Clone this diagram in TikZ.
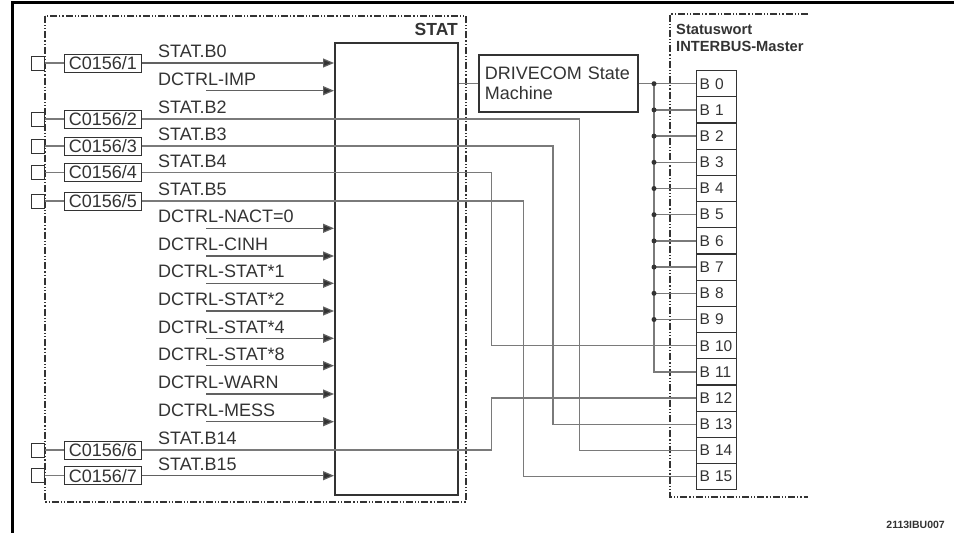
\documentclass[tikz,border=0pt]{standalone}
\usepackage{fontspec}
\setmainfont{Liberation Sans}
\usetikzlibrary{arrows.meta}
\definecolor{wire}{gray}{0.48}
\definecolor{dark}{gray}{0.2}
\begin{document}
\begin{tikzpicture}[x=1pt,y=-1pt,
  frameline/.style={line width=3pt,black},
  dd/.style={draw=dark,line width=1.1pt,dash pattern=on 7pt off 2pt on 1.2pt off 2pt on 1.2pt off 2pt},
  wireline/.style={draw=wire,line width=1.3pt},
  sigarrow/.style={draw=black!62,line width=1.2pt,-{Triangle[length=11pt,width=9pt,fill=dark]}},
  sq/.style={draw=dark,line width=0.9pt,minimum width=13pt,minimum height=14pt,inner sep=0pt,anchor=east},
  cbox/.style={draw=dark,line width=0.9pt,minimum width=77pt,minimum height=18pt,inner sep=1pt,font=\fontsize{18}{20}\selectfont,text=dark,anchor=west},
  lab/.style={anchor=west,font=\fontsize{18}{20}\selectfont,text=dark,inner sep=0pt},
  bbox/.style={draw=dark,line width=1.2pt,minimum height=26.2pt,text width=34pt,inner xsep=3pt,inner ysep=0pt,align=left,font=\fontsize{15.5}{17}\selectfont,anchor=north west,text=dark},
  busdot/.style={circle,fill=dark,inner sep=0pt,minimum size=5pt},
]
\useasboundingbox (0,0) rectangle (954,533);
\fill[white] (0,0) rectangle (954,533);

% outer frame (top and left)
\draw[frameline] (954,2.5) -- (12,2.5) -- (12,533);

% dash-dot boundaries
\draw[dd] (45,16) rectangle (466,502);
\draw[dd] (808,14) -- (670,14) -- (670,497) -- (808,497);

% STAT block
\node[draw=dark,line width=2pt,minimum width=123pt,minimum height=452pt,anchor=north west,inner sep=0pt] (stat) at (334,42) {};
\node[anchor=east,font=\bfseries\fontsize{17.5}{20}\selectfont,text=dark,inner sep=0pt] (statlab) at (458,29) {STAT};

% DRIVECOM box
\node[draw=dark,line width=1.6pt,anchor=north west,minimum width=159pt,minimum height=57pt,text width=147pt,inner xsep=6pt,align=left,font=\fontsize{18}{20.5}\selectfont,text=dark] (dc) at (478,54) {DRIVECOM State\\Machine};

% Statuswort title
\node[anchor=west,align=left,font=\bfseries\fontsize{14.7}{17}\selectfont,text=dark,inner sep=0pt] (sw) at (676,37.5) {Statuswort\\INTERBUS-Master};

% B boxes
\foreach \i in {0,...,15}
  \node[bbox] (b\i) at (696,{70+26.2*\i}) {B \i};

% bus
\coordinate (bus) at (654,0);
\draw[wireline] (stat.east |- dc.west) -- (dc.west);
\draw[wireline] (dc.east) -- (dc.east -| b0.west);
\draw[wireline] (bus |- b0.west) -- (bus |- b11.west) -- (b11.west);
\foreach \i in {1,...,9}
  \draw[wireline] (bus |- b\i.west) -- (b\i.west);
\foreach \i in {0,...,9}
  \node[busdot] (d\i) at (bus |- b\i.west) {};

% input squares and C0156 boxes
\foreach \k/\y in {1/63,2/119,3/146,4/172.5,5/201,6/450,7/475.7}{
  \node[sq] (s\k) at (45,\y) {};
  \node[cbox] (c\k) at (64,\y) {C0156/\k};
  \draw[wireline] (s\k.east) -- (c\k.west);
}

% signal labels
\foreach \t/\y [count=\n] in {STAT.B0/63,DCTRL-IMP/90.7,STAT.B2/119,STAT.B3/146,STAT.B4/172.5,STAT.B5/201,DCTRL-NACT=0/228.3,DCTRL-CINH/256,DCTRL-STAT*1/283.3,DCTRL-STAT*2/311,DCTRL-STAT*4/338.3,DCTRL-STAT*8/365.7,DCTRL-WARN/394,DCTRL-MESS/421.7,STAT.B14/450,STAT.B15/475.7}
  \node[lab] (l\n) at (158,\y-11.5) {\t};

% arrows into STAT
\draw[sigarrow] (c1.east) -- (c1.east -| stat.west);
\draw[sigarrow] (c7.east) -- (c7.east -| stat.west);
\foreach \y [count=\n] in {90.7,228.3,256,283.3,311,338.3,365.7,394,421.7}{
  \coordinate (a\n) at (206,\y);
  \draw[sigarrow] (a\n) -- (a\n -| stat.west);
}

% routed status bits
\coordinate (xa) at (491.5,0);
\coordinate (xb) at (523.7,0);
\coordinate (xc) at (553,0);
\coordinate (xd) at (579.3,0);
\draw[wireline] (c2.east) -| (xd |- b14.west) -- (b14.west);
\draw[wireline] (c3.east) -| (xc |- b13.west) -- (b13.west);
\draw[wireline] (c4.east) -| (xa |- b10.west) -- (b10.west);
\draw[wireline] (c5.east) -| (xb |- b15.west) -- (b15.west);
\draw[wireline] (c6.east) -| (xa |- b12.west) -- (b12.west);

% figure code
\node[anchor=east,font=\bfseries\fontsize{10.5}{12}\selectfont,text=dark,inner sep=0pt] (code) at (945,525) {2113IBU007};
\end{tikzpicture}
\end{document}
